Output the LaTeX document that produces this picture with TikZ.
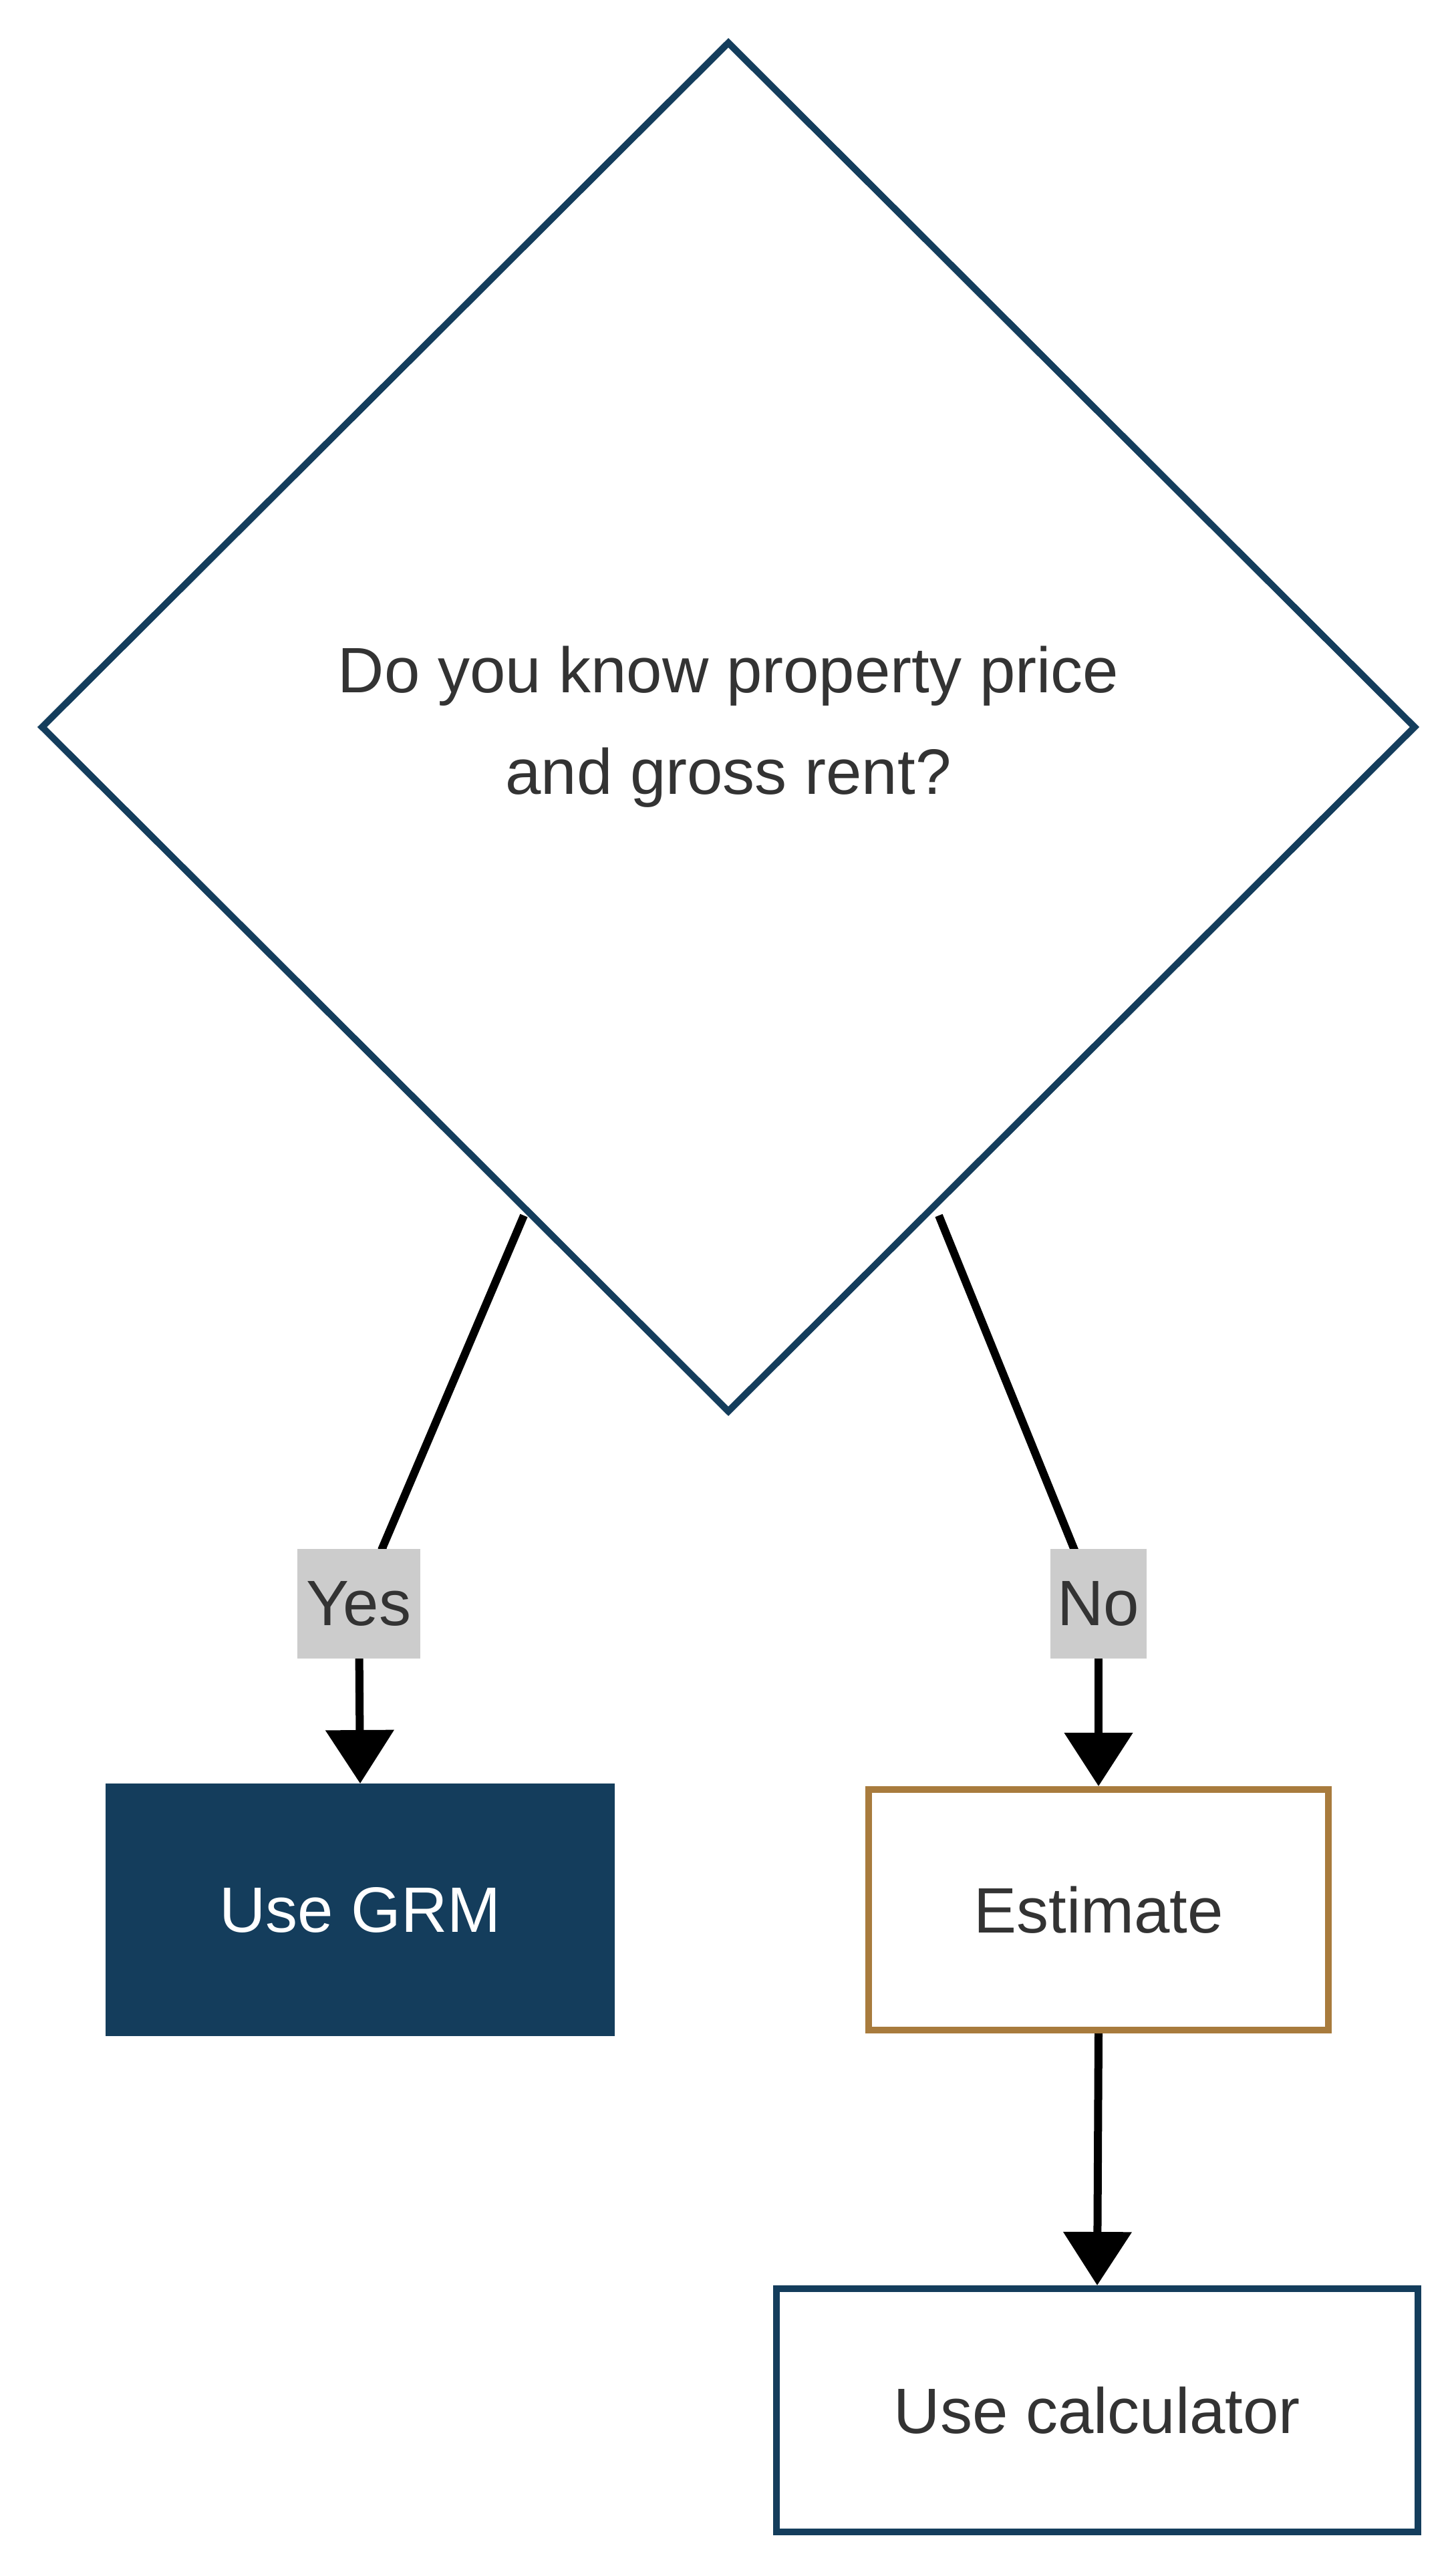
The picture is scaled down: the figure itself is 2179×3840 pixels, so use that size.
\documentclass[tikz,border=0pt]{standalone}
\usepackage{fontspec}
\setmainfont{Liberation Sans}
\usetikzlibrary{shapes.geometric,arrows.meta}
\definecolor{navy}{HTML}{143D5C}
\definecolor{brown}{HTML}{A87B3D}
\definecolor{txt}{HTML}{333333}
\definecolor{lblbg}{HTML}{CCCCCC}
\begin{document}
\begin{tikzpicture}[x=0.25pt,y=-0.25pt,
  box/.style={rectangle,inner sep=0,line width=2.5pt,font=\fontsize{24}{28}\selectfont,text=txt},
  conn/.style={line width=3pt,black},
  arr/.style={conn,-{Triangle[length=20pt,width=25pt]}},
  lbl/.style={fill=lblbg,text=txt,font=\fontsize{24}{28}\selectfont,inner sep=0,minimum height=41pt}]
\fill[white] (0,0) rectangle (2179,3840);
\useasboundingbox (0,0) rectangle (2179,3840);
\node[diamond,draw=navy,line width=2.5pt,fill=white,inner sep=0,minimum width=514.5pt,minimum height=513pt,text=txt,font=\fontsize{24}{38}\selectfont,align=center] (q) at (1090,1088) {Do you know property price\\and gross rent?};
\node[box,fill=navy,draw=navy,text=white,minimum width=188pt,minimum height=92pt] (grm) at (539,2858) {Use GRM};
\node[box,fill=white,draw=brown,minimum width=172pt,minimum height=90pt] (est) at (1644,2858) {Estimate};
\node[box,fill=white,draw=navy,minimum width=240pt,minimum height=91pt] (calc) at (1642,3607) {Use calculator};
\coordinate (ys) at (784,1819);
\coordinate (ns) at (1405,1819);
\coordinate (yl) at (537,2400);
\coordinate (nl) at (1644,2400);
\draw[conn] (ys) -- (572,2317) to[out=-66,in=90] (yl);
\draw[conn] (ns) -- (1607,2317) to[out=-68,in=90] (nl);
\draw[arr] (yl) -- (grm.north);
\draw[arr] (nl) -- (est.north);
\draw[arr] (est.south) -- (calc.north);
\node[lbl,minimum width=46pt] (yes) at (yl) {Yes};
\node[lbl,minimum width=36pt] (no) at (nl) {No};
\end{tikzpicture}
\end{document}
